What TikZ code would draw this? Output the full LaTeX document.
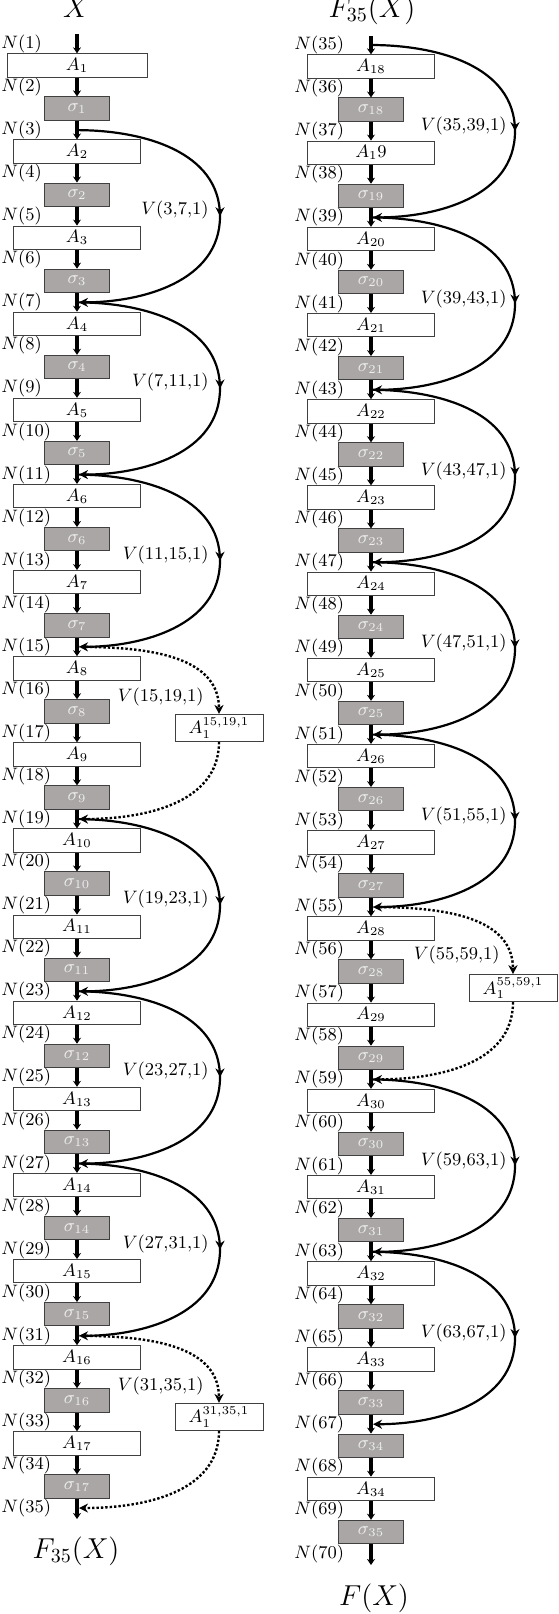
\documentclass[tikz,border=0pt]{standalone}
\usepackage{amsmath}
\usepackage{xcolor}
\usetikzlibrary{arrows.meta,decorations.markings}

\definecolor{boxline}{RGB}{64,64,64}
\definecolor{sigfill}{RGB}{170,166,166}
\definecolor{sigtext}{RGB}{238,238,238}

\begin{document}
\begin{tikzpicture}[x=0.5pt,y=0.5pt, font=\fontsize{9}{10}\selectfont,
  abox/.style = {draw=boxline, fill=white, line width=0.5pt, minimum width=63.5pt, minimum height=11.7pt, inner sep=0pt},
  sbox/.style = {draw=boxline, fill=sigfill, text=sigtext, line width=0.5pt, minimum width=32.5pt, minimum height=11.7pt, inner sep=0pt},
  dbox/.style = {draw=boxline, fill=white, line width=0.5pt, minimum width=44pt, minimum height=13.5pt, inner sep=0pt},
  flow/.style = {line width=1.6pt, -{Stealth[length=3pt,width=4pt]}},
  nlab/.style = {anchor=west, inner sep=0pt},
  vlab/.style = {anchor=east, inner sep=0pt},
  title/.style = {font=\Large, anchor=base, inner sep=0pt},
  varc/.style = {line width=1.1pt, -{Stealth[length=4.5pt,width=4.5pt]}, shorten >=1pt,
    postaction={decorate}, decoration={markings, mark=at position 0.5 with {\arrow{Stealth[length=4.5pt,width=4.5pt]}}}},
  vdot/.style = {line width=1.2pt, densely dotted, -{Stealth[length=4.5pt,width=4.5pt]}}]
\useasboundingbox (0,0) rectangle (558,-1614);

\node[title] (tx) at (76,-17) {$X$};
\node[title] (tf) at (372,-17) {$F_{35}(X)$};
\node[title] (bf) at (76,-1558) {$F_{35}(X)$};
\node[title] (bx) at (374,-1605) {$F(X)$};

% left column
\foreach \k in {1,...,35}{
  \coordinate (L\k) at (77,{-44-43.06*(\k-1)});
  \node[nlab] (NL\k) at (1,{-44-43.06*(\k-1)}) {$N(\k)$};
}
\node[abox, minimum width=70pt] (LB1) at (77,{-44-43.06*0.5}) {$A_1$};
\foreach \k [evaluate=\k as \j using int((\k+1)/2)] in {3,5,...,33}
  \node[abox] (LB\k) at (77,{-44-43.06*(\k-0.5)}) {$A_{\j}$};
\foreach \k [evaluate=\k as \j using int(\k/2)] in {2,4,...,34}
  \node[sbox] (LB\k) at (77,{-44-43.06*(\k-0.5)}) {$\sigma_{\j}$};
\coordinate (LS) at (77,-34);
\coordinate (LE) at (77,-1519);
\draw[flow] (LS) -- (LB1);
\foreach \k [evaluate=\k as \m using int(\k+1)] in {1,...,33}
  \draw[flow] (LB\k) -- (LB\m);
\draw[flow] (LB34) -- (LE);

% right column
\foreach \k in {35,...,70}{
  \coordinate (R\k) at (371,{-45-43.1*(\k-35)});
  \node[nlab] (NR\k) at (294,{-45-43.1*(\k-35)}) {$N(\k)$};
}
\foreach \k [evaluate=\k as \j using int((\k+1)/2)] in {35,39,41,...,65}
  \node[abox] (RB\k) at (371,{-45-43.1*(\k-34.5)}) {$A_{\j}$};
\node[abox] (RB37) at (371,{-45-43.1*2.5}) {$A_19$};
\foreach \k [evaluate=\k as \j using int(\k/2)] in {36,38,...,66}
  \node[sbox] (RB\k) at (371,{-45-43.1*(\k-34.5)}) {$\sigma_{\j}$};
\node[sbox] (RB67) at (371,{-45-43.1*32.5}) {$\sigma_{34}$};
\node[abox] (RB68) at (371,{-45-43.1*33.5}) {$A_{34}$};
\node[sbox] (RB69) at (371,{-45-43.1*34.5}) {$\sigma_{35}$};
\coordinate (RS) at (371,-36);
\coordinate (RE) at (371,-1565);
\draw[flow] (RS) -- (RB35);
\foreach \k [evaluate=\k as \m using int(\k+1)] in {35,...,68}
  \draw[flow] (RB\k) -- (RB\m);
\draw[flow] (RB69) -- (RE);

% skip arcs
\foreach \a/\b in {3/7,7/11,11/15,19/23,23/27,27/31}{
  \coordinate (VL\a) at (220,{-44-43.06*((\a+\b)/2-1)});
  \draw[varc] (L\a) to[out=0,in=90] (VL\a) to[out=-90,in=0] (L\b);
  \node[vlab] (WL\a) at (209,{-44-43.06*((\a+\b)/2-1)+6}) {$V(\a{,}\b{,}1)$};
}
\foreach \a/\b in {15/19,31/35}{
  \node[dbox] (DL\a) at (219,{-44-43.06*((\a+\b)/2-1)+5}) {$A_1^{\a{,}\b{,}1}$};
  \draw[vdot] (L\a) to[out=0,in=90] (DL\a);
  \draw[vdot, shorten >=1pt] (DL\a) to[out=-90,in=0] (L\b);
  \node[vlab] (WL\a) at (204,{-44-43.06*((\a+\b)/2-1)+36}) {$V(\a{,}\b{,}1)$};
}
\foreach \a/\b in {35/39,39/43,43/47,47/51,51/55,59/63,63/67}{
  \coordinate (VR\a) at (515,{-45-43.1*((\a+\b)/2-35)});
  \draw[varc] (R\a) to[out=0,in=90] (VR\a) to[out=-90,in=0] (R\b);
  \node[vlab] (WR\a) at (507,{-45-43.1*((\a+\b)/2-35)+5}) {$V(\a{,}\b{,}1)$};
}
\foreach \a/\b in {55/59}{
  \node[dbox] (DR\a) at (513,{-45-43.1*((\a+\b)/2-35)+5}) {$A_1^{\a{,}\b{,}1}$};
  \draw[vdot] (R\a) to[out=0,in=90] (DR\a);
  \draw[vdot, shorten >=1pt] (DR\a) to[out=-90,in=0] (R\b);
  \node[vlab] (WR\a) at (500,{-45-43.1*((\a+\b)/2-35)+38}) {$V(\a{,}\b{,}1)$};
}
\end{tikzpicture}
\end{document}
